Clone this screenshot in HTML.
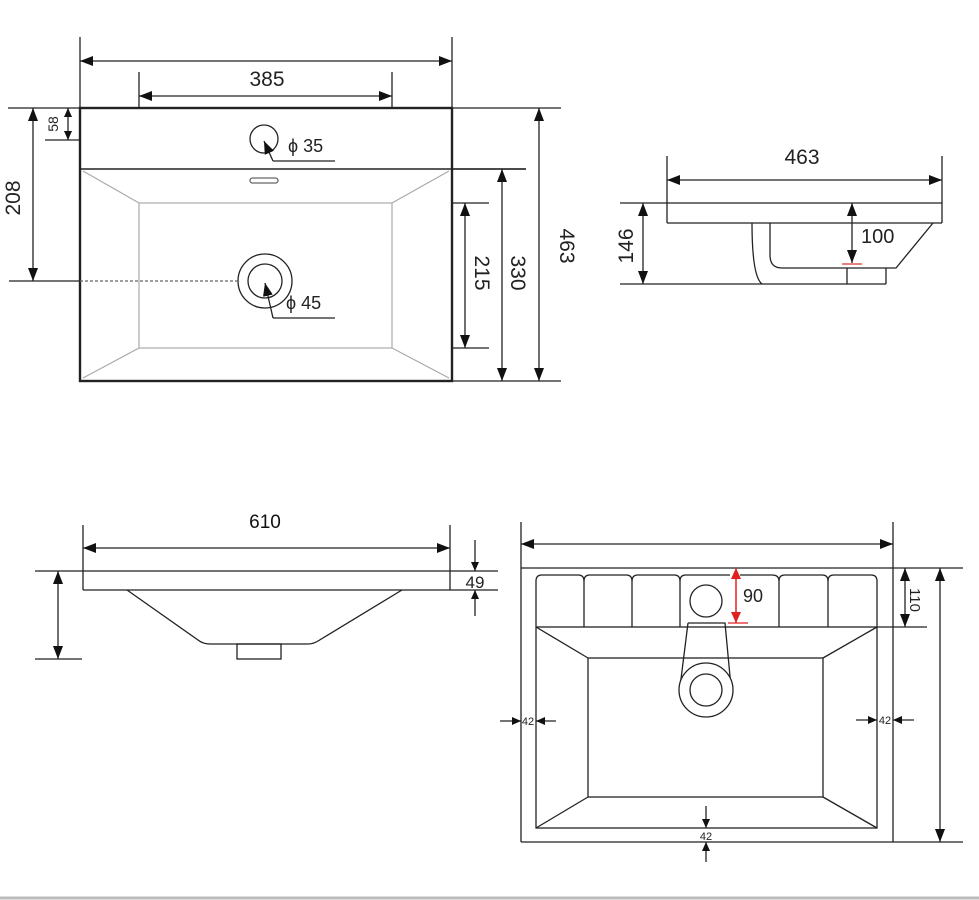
<!DOCTYPE html>
<html><head><meta charset="utf-8"><style>
html,body{margin:0;padding:0;background:#fff;}
svg{display:block;}
text{font-family:"Liberation Sans",sans-serif;fill:#222;}
</style></head><body>
<svg width="979" height="900" viewBox="0 0 979 900" xmlns="http://www.w3.org/2000/svg">
<defs>
<marker id="a" markerUnits="userSpaceOnUse" markerWidth="14" markerHeight="10" refX="13" refY="5" orient="auto-start-reverse"><path d="M0,0 L13,5 L0,10 z" fill="#111"/></marker>
<marker id="s" markerUnits="userSpaceOnUse" markerWidth="10" markerHeight="8" refX="9" refY="4" orient="auto-start-reverse"><path d="M0,0 L9,4 L0,8 z" fill="#111"/></marker>
<marker id="r" markerUnits="userSpaceOnUse" markerWidth="12" markerHeight="10" refX="11" refY="5" orient="auto-start-reverse"><path d="M0,0 L11,5 L0,10 z" fill="#e02020"/></marker>
</defs>
<g stroke="#222" stroke-width="1.3" fill="none">
<line x1="80" y1="37" x2="80" y2="108"/><line x1="452" y1="37" x2="452" y2="108"/>
<line x1="80" y1="61" x2="452" y2="61" marker-start="url(#a)" marker-end="url(#a)"/>
<line x1="139" y1="72" x2="139" y2="108"/><line x1="392" y1="72" x2="392" y2="108"/>
<line x1="139" y1="96" x2="392" y2="96" marker-start="url(#a)" marker-end="url(#a)"/>
<line x1="8" y1="108" x2="561" y2="108"/>
<rect x="80" y="108" width="372" height="273" stroke-width="2.4"/>
<line x1="80" y1="169" x2="526" y2="169" stroke-width="1.6"/>
<g stroke="#aaa" stroke-width="1.2">
<rect x="139" y="203" width="253" height="145"/>
<line x1="83" y1="171" x2="139" y2="203"/><line x1="449" y1="171" x2="392" y2="203"/>
<line x1="83" y1="378" x2="139" y2="348"/><line x1="449" y1="378" x2="392" y2="348"/>
</g>
<rect x="250" y="178" width="28" height="5" rx="2.5" stroke="#666"/>
<circle cx="264" cy="139" r="14"/>
<polyline points="273,161 335,161"/>
<line x1="273" y1="161" x2="264" y2="141" marker-end="url(#a)"/>
<circle cx="265" cy="281" r="27"/><circle cx="265" cy="281" r="17"/>
<polyline points="273,318 335,318"/>
<line x1="273" y1="318" x2="265" y2="283" marker-end="url(#a)"/>
<line x1="80" y1="281" x2="238" y2="281" stroke-dasharray="3,2" stroke="#666"/>
<line x1="9" y1="281" x2="80" y2="281"/>
<line x1="33" y1="108" x2="33" y2="281" marker-start="url(#a)" marker-end="url(#a)"/>
<line x1="45" y1="140" x2="80" y2="140"/>
<line x1="68" y1="108" x2="68" y2="140" marker-start="url(#s)" marker-end="url(#s)"/>
<line x1="452" y1="381" x2="561" y2="381"/>
<line x1="539" y1="108" x2="539" y2="381" marker-start="url(#a)" marker-end="url(#a)"/>
<line x1="452" y1="169" x2="526" y2="169"/>
<line x1="502" y1="169" x2="502" y2="381" marker-start="url(#a)" marker-end="url(#a)"/>
<line x1="452" y1="203" x2="489" y2="203"/><line x1="452" y1="348" x2="489" y2="348"/>
<line x1="465" y1="203" x2="465" y2="348" marker-start="url(#a)" marker-end="url(#a)"/>

<line x1="667" y1="156" x2="667" y2="223"/><line x1="942" y1="156" x2="942" y2="223"/>
<line x1="667" y1="180" x2="942" y2="180" marker-start="url(#a)" marker-end="url(#a)"/>
<line x1="620" y1="203" x2="942" y2="203"/>
<line x1="667" y1="223" x2="942" y2="223"/>
<line x1="620" y1="284" x2="886" y2="284"/>
<line x1="643" y1="203" x2="643" y2="284" marker-start="url(#a)" marker-end="url(#a)"/>
<path d="M752,223 C752,250 754,278 762,284"/>
<path d="M770,223 L770,255 C770,264 774,268 782,268 L896,268 L933,223"/>
<line x1="847" y1="268" x2="847" y2="284"/><line x1="886" y1="268" x2="886" y2="284"/>
<line x1="852" y1="203" x2="852" y2="263" marker-start="url(#a)" marker-end="url(#a)"/>
<line x1="842" y1="264" x2="862" y2="264" stroke="#e03030" stroke-width="1.2"/>

<line x1="83" y1="525" x2="83" y2="590"/><line x1="450" y1="525" x2="450" y2="590"/>
<line x1="83" y1="548" x2="450" y2="548" marker-start="url(#a)" marker-end="url(#a)"/>
<line x1="35" y1="571" x2="498" y2="571"/>
<line x1="83" y1="590" x2="498" y2="590"/>
<path d="M127,590 L198,640 Q203,644 210,644 L308,644 Q313,644 318,641 L402,590"/>
<rect x="237" y="644" width="44" height="15"/>
<line x1="35" y1="659" x2="82" y2="659"/>
<line x1="58" y1="571" x2="58" y2="659" marker-start="url(#a)" marker-end="url(#a)"/>
<line x1="475" y1="540" x2="475" y2="571" marker-end="url(#s)"/>
<line x1="475" y1="616" x2="475" y2="590" marker-end="url(#s)"/>

<line x1="521" y1="522" x2="521" y2="842"/><line x1="893" y1="522" x2="893" y2="842"/>
<line x1="521" y1="544" x2="893" y2="544" marker-start="url(#a)" marker-end="url(#a)"/>
<line x1="521" y1="568" x2="963" y2="568"/>
<line x1="521" y1="842" x2="963" y2="842"/>
<rect x="536" y="627" width="341" height="201"/>
<rect x="588" y="658" width="235" height="139"/>
<line x1="536" y1="627" x2="588" y2="658"/><line x1="877" y1="627" x2="823" y2="658"/>
<line x1="536" y1="828" x2="588" y2="797"/><line x1="877" y1="828" x2="823" y2="797"/>
<path d="M536,627 L536,581 Q536,575 542,575 L578,575 Q584,575 584,581 L584,627"/>
<path d="M584,581 Q584,575 590,575 L626,575 Q632,575 632,581 L632,627"/>
<path d="M632,581 Q632,575 638,575 L674,575 Q680,575 680,581 L680,627"/>
<path d="M680,581 Q680,575 686,575 L730,575 M740,575 L772,575 Q779,575 779,581 L779,627"/>
<path d="M779,581 Q779,575 785,575 L822,575 Q828,575 828,581 L828,627"/>
<path d="M828,581 Q828,575 834,575 L871,575 Q877,575 877,581 L877,627"/>
<circle cx="706" cy="601" r="16"/>
<path d="M688,623 L725,623 L731,687 M688,623 L680,687"/>
<circle cx="706" cy="690" r="27" fill="#fff"/><circle cx="706" cy="690" r="16"/>
<line x1="736" y1="568" x2="736" y2="623" stroke="#e02020" stroke-width="1.5" marker-start="url(#r)" marker-end="url(#r)"/>
<line x1="728" y1="623" x2="748" y2="623" stroke="#e02020" stroke-width="1.2"/>
<line x1="877" y1="627" x2="927" y2="627"/>
<line x1="905" y1="568" x2="905" y2="627" marker-start="url(#a)" marker-end="url(#a)"/>
<line x1="940" y1="568" x2="940" y2="842" marker-start="url(#a)" marker-end="url(#a)"/>
<line x1="500" y1="721" x2="521" y2="721" marker-end="url(#s)"/>
<line x1="556" y1="721" x2="536" y2="721" marker-end="url(#s)"/>
<line x1="856" y1="720" x2="877" y2="720" marker-end="url(#s)"/>
<line x1="914" y1="720" x2="893" y2="720" marker-end="url(#s)"/>
<line x1="706" y1="806" x2="706" y2="828" marker-end="url(#s)"/>
<line x1="706" y1="862" x2="706" y2="842" marker-end="url(#s)"/>
</g>
<line x1="0" y1="898" x2="979" y2="898" stroke="#bbb" stroke-width="3"/>

<text x="267" y="86" font-size="21" text-anchor="middle">385</text>
<text x="288" y="152" font-size="18">ϕ 35</text>
<text x="286" y="309" font-size="18">ϕ 45</text>
<text transform="translate(20,198) rotate(-90)" font-size="21" text-anchor="middle">208</text>
<text transform="translate(58,124) rotate(-90)" font-size="14" text-anchor="middle">58</text>
<text transform="translate(560,246) rotate(90)" font-size="21" text-anchor="middle">463</text>
<text transform="translate(511,273) rotate(90)" font-size="21" text-anchor="middle">330</text>
<text transform="translate(475,273) rotate(90)" font-size="21" text-anchor="middle">215</text>
<text x="802" y="164" font-size="21" text-anchor="middle">463</text>
<text transform="translate(633,246) rotate(-90)" font-size="21" text-anchor="middle">146</text>
<text x="861" y="243" font-size="20">100</text>
<text x="265" y="528" font-size="19" text-anchor="middle" style="fill:#111">610</text>
<text x="475" y="588" font-size="17" text-anchor="middle">49</text>
<text x="743" y="602" font-size="18">90</text>
<text transform="translate(910,600) rotate(90)" font-size="15" text-anchor="middle">110</text>
<text x="528" y="725" font-size="11" text-anchor="middle">42</text>
<text x="885" y="724" font-size="11" text-anchor="middle">42</text>
<text x="706" y="840" font-size="11" text-anchor="middle">42</text>
</svg>
</body></html>
